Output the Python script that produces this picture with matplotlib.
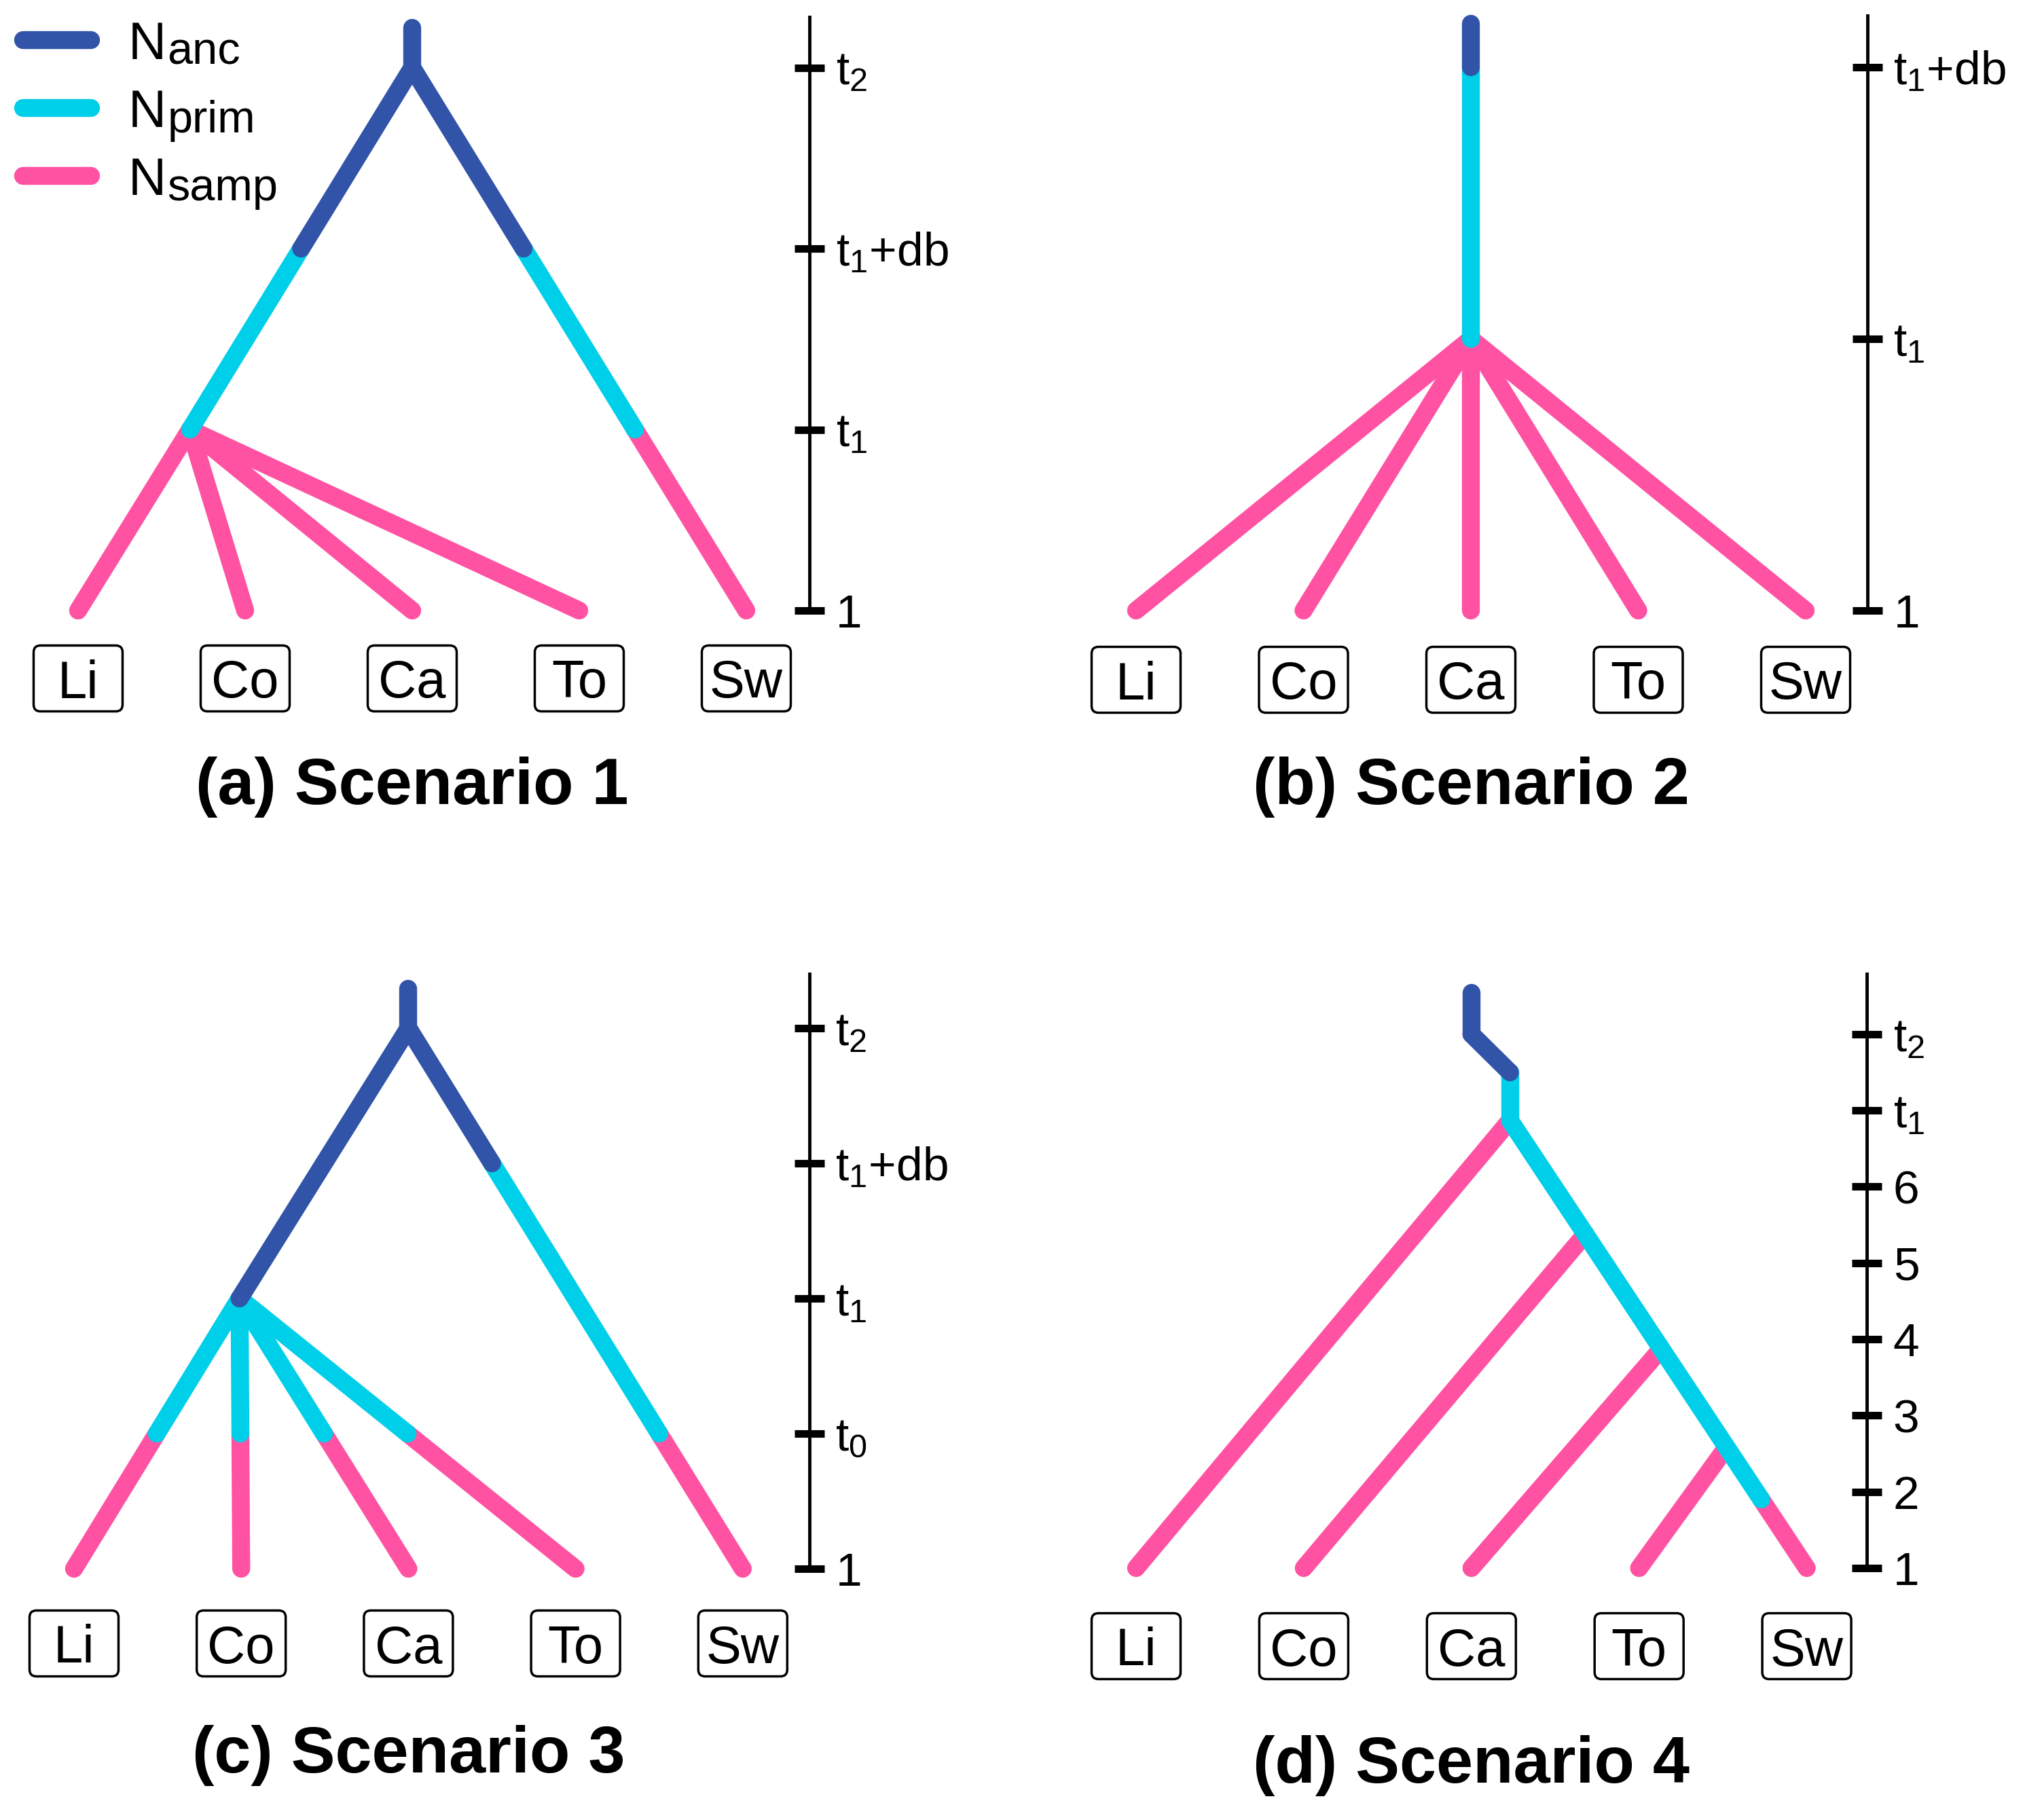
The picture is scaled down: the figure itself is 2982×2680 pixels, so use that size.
import numpy as np
import matplotlib.pyplot as plt
import matplotlib.transforms as mtransforms
from matplotlib.patches import FancyBboxPatch
from matplotlib.lines import Line2D

W, H = 2982, 2680

plt.rcParams['font.family'] = ['Liberation Sans', 'DejaVu Sans']
plt.rcParams['mathtext.fontset'] = 'custom'
plt.rcParams['mathtext.rm'] = 'Liberation Sans'
plt.rcParams['mathtext.it'] = 'Liberation Sans'
plt.rcParams['mathtext.default'] = 'regular'

# population colours, drawn older on top of younger
colors = {'anc': '#3153A8', 'prim': '#00CFEA', 'samp': '#FF52A2'}
zorders = {'samp': 2, 'prim': 3, 'anc': 4}
legend_keys = ['anc', 'prim', 'samp']
legend_subs = ['anc', 'prim', 'samp']

leaf_names = ['Li', 'Co', 'Ca', 'To', 'Sw']
leaf_x = [0, 1, 2, 3, 4]

# time axis of each scenario (level 0 = generation 1)
ticks_a = [0, 1, 2, 3]
labels_a = ['1', '$t_1$', '$t_1$+db', '$t_2$']
ticks_b = [0, 1, 2]
labels_b = ['1', '$t_1$', '$t_1$+db']
ticks_c = [0, 1, 2, 3, 4]
labels_c = ['1', '$t_0$', '$t_1$', '$t_1$+db', '$t_2$']
ticks_d = [0, 1, 2, 3, 4, 5, 6, 7]
labels_d = ['1', '2', '3', '4', '5', '6', '$t_1$', '$t_2$']

# branches: (x_top, level_top, x_bottom, level_bottom, levels where the population changes, populations top->bottom)
branches_a = [
    (2, 3.22, 2, 3, [], ['anc']),
    (2, 3, 0.67, 1, [2], ['anc', 'prim']),
    (2, 3, 4, 0, [2, 1], ['anc', 'prim', 'samp']),
    (0.67, 1, 0, 0, [], ['samp']),
    (0.67, 1, 1, 0, [], ['samp']),
    (0.67, 1, 2, 0, [], ['samp']),
    (0.67, 1, 3, 0, [], ['samp']),
]
branches_b = [
    (2, 2.16, 2, 1, [2], ['anc', 'prim']),
    (2, 1, 0, 0, [], ['samp']),
    (2, 1, 1, 0, [], ['samp']),
    (2, 1, 2, 0, [], ['samp']),
    (2, 1, 3, 0, [], ['samp']),
    (2, 1, 4, 0, [], ['samp']),
]
branches_c = [
    (2, 4.29, 2, 4, [], ['anc']),
    (2, 4, 0.99, 2, [], ['anc']),
    (2, 4, 4, 0, [3, 1], ['anc', 'prim', 'samp']),
    (0.99, 2, 0, 0, [1], ['prim', 'samp']),
    (0.99, 2, 1, 0, [1], ['prim', 'samp']),
    (0.99, 2, 2, 0, [1], ['prim', 'samp']),
    (0.99, 2, 3, 0, [1], ['prim', 'samp']),
]
branches_d = [
    (2.0, 7.54, 2.0, 7.0, [], ['anc']),
    (2.0, 7.0, 2.23, 6.5, [], ['anc']),
    (2.23, 6.5, 2.23, 5.87, [], ['prim']),
    (2.23, 5.87, 4, 0, [0.9], ['prim', 'samp']),
    (2.23, 5.87, 0, 0, [], ['samp']),
    (2.68, 4.38, 1, 0, [], ['samp']),
    (3.13, 2.87, 2, 0, [], ['samp']),
    (3.52, 1.58, 3, 0, [], ['samp']),
]

titles = ['(a) Scenario 1', '(b) Scenario 2', '(c) Scenario 3', '(d) Scenario 4']

# layout: pixel position of leaf 0 / level 0, pixels per leaf, pixels per level
panels = [
    dict(ticks=ticks_a, labels=labels_a, branches=branches_a, px=(115, 246.0, 899, 266.5),
         axis_x=4.38, axis_top=3.28, box_off=100, title_off=285),
    dict(ticks=ticks_b, labels=labels_b, branches=branches_b, px=(1673, 246.5, 899, 400.0),
         axis_x=4.37, axis_top=2.19, box_off=102, title_off=285),
    dict(ticks=ticks_c, labels=labels_c, branches=branches_c, px=(109, 246.2, 2310, 199.0),
         axis_x=4.40, axis_top=4.40, box_off=110, title_off=300),
    dict(ticks=ticks_d, labels=labels_d, branches=branches_d, px=(1673, 246.9, 2309, 112.3),
         axis_x=4.36, axis_top=7.79, box_off=115, title_off=316),
]

LW = 19
PT = 100 / 72  # pixels per point

fig = plt.figure(figsize=(W / 100, H / 100), dpi=100)
pix = mtransforms.Affine2D().scale(1 / W, -1 / H).translate(0, 1) + fig.transFigure


def draw_branch(ax, br):
    x0, y0, x1, y1, cuts, pops = br
    ys = [y0] + list(cuts) + [y1]
    if y0 == y1:
        xs = [x0, x1]
    else:
        xs = np.interp(ys, [y1, y0], [x1, x0])
    for k, pop in enumerate(pops):
        ax.plot(xs[k:k + 2], ys[k:k + 2], color=colors[pop], lw=LW,
                solid_capstyle='round', zorder=zorders[pop])


axes = []
for p, title in zip(panels, titles):
    x0, dx, y0, dy = p['px']
    xlim = (-0.6, p['axis_x'] + 0.3)
    ylim = (-0.2, p['axis_top'] + 0.05)
    left = x0 + xlim[0] * dx
    right = x0 + xlim[1] * dx
    bot = y0 - ylim[0] * dy
    top = y0 - ylim[1] * dy
    ax = fig.add_axes([left / W, 1 - bot / H, (right - left) / W, (bot - top) / H])
    ax.patch.set_visible(False)
    axes.append(ax)

    for br in p['branches']:
        draw_branch(ax, br)
    ax.set_xlim(xlim)
    ax.set_ylim(ylim)

    # time axis on the right
    for side in ['left', 'top', 'bottom']:
        ax.spines[side].set_visible(False)
    ax.spines['right'].set_position(('data', p['axis_x']))
    ax.spines['right'].set_bounds(0, p['axis_top'])
    ax.spines['right'].set_linewidth(3.5)
    ax.yaxis.tick_right()
    ax.set_yticks(p['ticks'], p['labels'])
    ax.tick_params(axis='y', direction='inout', length=31, width=8, pad=12, labelsize=50)
    ax.set_xticks([])

    # boxed leaf names
    for i, name in zip(leaf_x, leaf_names):
        trans = fig.dpi_scale_trans + mtransforms.ScaledTranslation(i, 0, ax.transData)
        box = FancyBboxPatch((-0.655, -p['box_off'] / 100 - 0.485), 1.31, 0.97,
                             boxstyle='round,pad=0,rounding_size=0.1', transform=trans,
                             fc='white', ec='black', lw=2.5, zorder=5, clip_on=False)
        ax.add_artist(box)
        ax.annotate(name, xy=(i, 0), xytext=(0, -p['box_off'] / PT), textcoords='offset points',
                    ha='center', va='center_baseline', fontsize=56, zorder=6,
                    annotation_clip=False)

    ax.annotate(title, xy=(2, 0), xytext=(0, -p['title_off'] / PT), textcoords='offset points',
                ha='center', va='baseline', fontsize=70, fontweight='bold',
                annotation_clip=False)

# legend
for k, (key, sub) in enumerate(zip(legend_keys, legend_subs)):
    y = 59 + 100 * k
    fig.add_artist(Line2D([34, 134], [y, y], transform=pix, color=colors[key], lw=LW,
                          solid_capstyle='round'))
    n = fig.text(189, y + 28, 'N', transform=pix, fontsize=56, ha='left', va='baseline')
    axes[0].annotate(sub, xy=(1, 0), xycoords=n, xytext=(1, -4), textcoords='offset points',
                     ha='left', va='bottom', fontsize=48, annotation_clip=False)

fig.savefig('out.png', dpi=100)
